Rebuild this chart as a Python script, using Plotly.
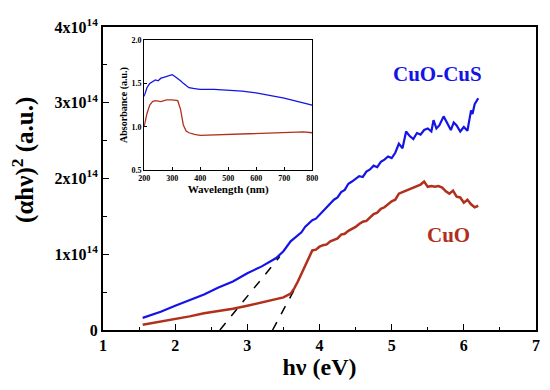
import plotly.graph_objects as go

# Main Tauc plot: (alpha h nu)^2 in units of 1e14
hv_cus = [1.55, 1.8, 2.0, 2.2, 2.4, 2.6, 2.8, 3.0, 3.2, 3.4, 3.5,
          3.60, 3.65, 3.70, 3.75, 3.80, 3.85, 3.90, 3.95, 4.00, 4.05, 4.10, 4.15, 4.20, 4.25, 4.30, 4.35,
          4.40, 4.45, 4.50, 4.55, 4.60, 4.65, 4.70, 4.75, 4.80, 4.85, 4.90, 4.95, 5.00, 5.05, 5.10, 5.15,
          5.20, 5.25, 5.30, 5.35, 5.40, 5.45, 5.50, 5.55, 5.58, 5.62, 5.66, 5.72, 5.76, 5.82, 5.86, 5.90,
          5.95, 6.00, 6.05, 6.10, 6.12, 6.15, 6.20]
y_cus = [0.16, 0.24, 0.32, 0.39, 0.47, 0.56, 0.64, 0.75, 0.84, 0.95, 1.04,
         1.17, 1.21, 1.25, 1.29, 1.36, 1.40, 1.45, 1.47, 1.52, 1.56, 1.62, 1.66, 1.72, 1.75, 1.82, 1.85,
         1.93, 1.96, 1.99, 2.03, 2.02, 2.09, 2.12, 2.17, 2.15, 2.22, 2.25, 2.29, 2.27, 2.34, 2.46, 2.40,
         2.62, 2.56, 2.52, 2.60, 2.58, 2.64, 2.66, 2.62, 2.77, 2.66, 2.70, 2.82, 2.75, 2.64, 2.74, 2.70,
         2.62, 2.68, 2.63, 2.90, 2.85, 2.98, 3.06]

hv_cuo = [1.55, 1.8, 2.0, 2.2, 2.4, 2.6, 2.8, 3.0, 3.2, 3.4, 3.5, 3.6,
          3.65, 3.70, 3.75, 3.80, 3.85, 3.90, 3.95, 4.00, 4.05, 4.10, 4.15, 4.20, 4.25, 4.30, 4.35, 4.40,
          4.45, 4.50, 4.55, 4.60, 4.65, 4.70, 4.75, 4.80, 4.85, 4.90, 4.95, 5.00, 5.05, 5.10, 5.15, 5.20,
          5.25, 5.30, 5.35, 5.40, 5.45, 5.50, 5.55, 5.60, 5.65, 5.70, 5.75, 5.80, 5.85, 5.90, 5.95, 6.00,
          6.05, 6.10, 6.15, 6.20]
y_cuo = [0.07, 0.11, 0.15, 0.18, 0.22, 0.25, 0.28, 0.32, 0.36, 0.40, 0.43, 0.48,
         0.55, 0.64, 0.74, 0.84, 0.96, 1.05, 1.06, 1.10, 1.12, 1.13, 1.17, 1.19, 1.21, 1.26, 1.27, 1.31,
         1.33, 1.36, 1.40, 1.43, 1.44, 1.48, 1.53, 1.55, 1.60, 1.62, 1.66, 1.70, 1.72, 1.80, 1.82, 1.84,
         1.86, 1.87, 1.90, 1.92, 1.96, 1.89, 1.90, 1.89, 1.90, 1.88, 1.83, 1.80, 1.84, 1.76, 1.75, 1.68,
         1.72, 1.66, 1.62, 1.64]

# Extrapolation (band-gap) lines
fit1_x = [2.62, 3.45]
fit1_y = [0.0, 0.97]
fit2_x = [3.35, 3.70]
fit2_y = [0.0, 0.62]

y_tickvals = [0, 1, 2, 3, 4]
y_ticktext = ["0", "1x10<sup>14</sup>", "2x10<sup>14</sup>", "3x10<sup>14</sup>", "4x10<sup>14</sup>"]

# Inset absorbance
wl_cus = [200, 210, 220, 230, 240, 250, 260, 270, 280, 290, 300, 310, 320, 330, 340, 350, 360, 380, 400,
          450, 500, 550, 600, 650, 700, 750, 800]
abs_cus = [1.35, 1.45, 1.50, 1.52, 1.54, 1.53, 1.56, 1.57, 1.58, 1.59, 1.60, 1.58, 1.56, 1.53, 1.50, 1.47,
           1.45, 1.44, 1.43, 1.43, 1.42, 1.41, 1.39, 1.36, 1.33, 1.29, 1.25]
wl_cuo = [200, 210, 220, 230, 240, 260, 280, 300, 320, 330, 340, 350, 360, 380, 400, 500, 600, 700, 770, 800]
abs_cuo = [1.00, 1.15, 1.25, 1.29, 1.30, 1.29, 1.31, 1.31, 1.30, 1.20, 1.02, 0.95, 0.93, 0.91, 0.90, 0.91,
           0.92, 0.93, 0.94, 0.93]

BLUE = "#1414e6"
RED = "#b0301c"
FONT = "Liberation Serif"

fig = go.Figure()
fig.add_trace(go.Scatter(x=fit1_x, y=fit1_y, mode="lines", line=dict(color="black", width=1.5, dash="dash"), showlegend=False))
fig.add_trace(go.Scatter(x=fit2_x, y=fit2_y, mode="lines", line=dict(color="black", width=1.5, dash="dash"), showlegend=False))
fig.add_trace(go.Scatter(x=hv_cus, y=y_cus, mode="lines", line=dict(color=BLUE, width=2.2), showlegend=False))
fig.add_trace(go.Scatter(x=hv_cuo, y=y_cuo, mode="lines", line=dict(color=RED, width=2.5), showlegend=False))

fig.add_trace(go.Scatter(x=wl_cus, y=abs_cus, mode="lines", line=dict(color=BLUE, width=1.3),
                         xaxis="x2", yaxis="y2", showlegend=False))
fig.add_trace(go.Scatter(x=wl_cuo, y=abs_cuo, mode="lines", line=dict(color=RED, width=1.3),
                         xaxis="x2", yaxis="y2", showlegend=False))

axis_common = dict(showline=True, linecolor="black", mirror=True, ticks="inside", showgrid=False,
                   zeroline=False, tickcolor="black", automargin=False)

fig.update_layout(
    width=550, height=390,
    margin=dict(l=103, r=14, t=27, b=60),
    plot_bgcolor="white", paper_bgcolor="white",
    font=dict(family=FONT, color="black"),
    xaxis=dict(**axis_common, range=[1, 7], tickvals=[1, 2, 3, 4, 5, 6, 7], ticklen=6, linewidth=2,
               minor=dict(dtick=0.5, ticklen=3, ticks="inside", tickcolor="black"),
               tickfont=dict(size=16, family=FONT, weight="bold"),
               title=dict(text="hν (eV)", font=dict(size=24, family=FONT, weight="bold"), standoff=2)),
    yaxis=dict(**axis_common, range=[0, 4], tickvals=y_tickvals, ticktext=y_ticktext, ticklen=6, linewidth=2,
               minor=dict(dtick=0.5, ticklen=4, ticks="inside", tickcolor="black"),
               tickfont=dict(size=16, family=FONT, weight="bold")),
    xaxis2=dict(**axis_common, domain=[0.095, 0.483], anchor="y2", range=[200, 800], dtick=100, ticklen=3,
                linewidth=1, tickfont=dict(size=8, family=FONT, weight="bold"),
                title=dict(text="Wavelength (nm)", font=dict(size=11, family=FONT, weight="bold"), standoff=2)),
    yaxis2=dict(**axis_common, domain=[0.528, 0.957], anchor="x2", range=[0.5, 2.0], tickvals=[0.5, 1.0, 1.5, 2.0],
                ticktext=["0.5", "1.0", "1.5", "2.0"], ticklen=3, linewidth=1,
                tickfont=dict(size=8, family=FONT, weight="bold"),
                title=dict(text="Absorbance (a.u.)", font=dict(size=10, family=FONT, weight="bold"), standoff=2)),
    annotations=[
        dict(x=-0.185, y=0.561, xref="paper", yref="paper", text="(αhν)<sup>2</sup> (a.u.)", showarrow=False,
             xanchor="center", yanchor="middle",
             textangle=-90, font=dict(size=25, family=FONT, weight="bold")),
        dict(x=5.64, y=3.38, xref="x", yref="y", text="CuO-CuS", showarrow=False,
             font=dict(size=21, color=BLUE, family=FONT, weight="bold")),
        dict(x=5.79, y=1.25, xref="x", yref="y", text="CuO", showarrow=False,
             font=dict(size=21, color=RED, family=FONT, weight="bold")),
    ],
)

fig.write_html("out.html", config={"displayModeBar": False},
               post_script="document.body.style.margin='0';")
